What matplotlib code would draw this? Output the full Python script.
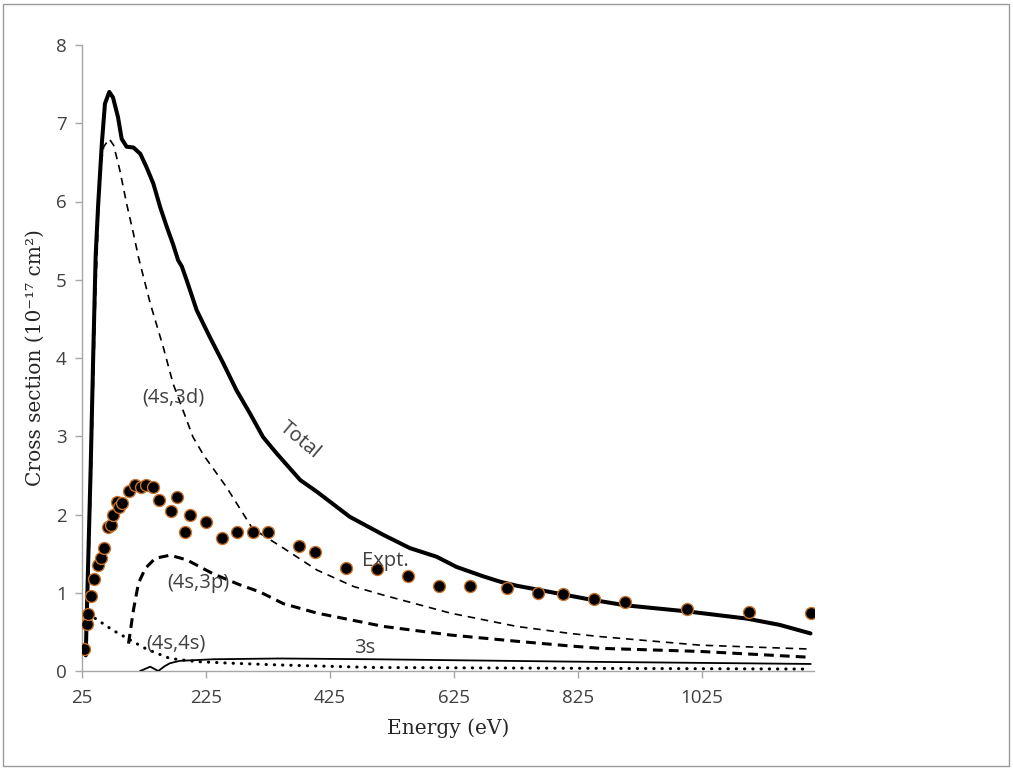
import matplotlib
matplotlib.use("Agg")
import matplotlib.pyplot as plt
from matplotlib.patches import Rectangle

# ---- data ----
total_E = [31, 35, 39, 43, 47, 51, 57, 62, 69, 75, 83, 89, 97, 108, 119, 129, 140, 151, 162,
           172, 180, 186, 194, 210, 231, 253, 274, 296, 317, 339, 377, 404, 457, 511, 554,
           597, 629, 672, 700, 726, 780, 840, 901, 1003, 1097, 1150, 1200]
total_y = [0.2, 1.4, 2.6, 4.0, 5.3, 5.95, 6.74, 7.25, 7.40, 7.33, 7.08, 6.80, 6.70, 6.69, 6.61,
           6.44, 6.23, 5.93, 5.67, 5.45, 5.25, 5.17, 4.99, 4.61, 4.27, 3.93, 3.59, 3.29, 2.99,
           2.78, 2.44, 2.29, 1.97, 1.74, 1.57, 1.46, 1.33, 1.21, 1.14, 1.09, 1.01, 0.92, 0.84,
           0.76, 0.67, 0.59, 0.48]

d3_E = [32, 40, 47, 54, 60, 69, 76, 86, 97, 108, 116, 135, 156, 172, 188, 204, 221, 258, 300,
        350, 404, 463, 511, 619, 726, 812, 860, 1022, 1200]
d3_y = [0.2, 2.5, 4.8, 6.40, 6.70, 6.80, 6.72, 6.40, 5.97, 5.59, 5.29, 4.70, 4.14, 3.67, 3.33,
        2.99, 2.76, 2.35, 1.82, 1.57, 1.29, 1.08, 0.97, 0.74, 0.57, 0.48, 0.44, 0.33, 0.28]

p3_E = [100, 108, 116, 127, 143, 167, 194, 237, 280, 312, 350, 404, 511, 619, 726, 812, 860,
        1022, 1200]
p3_y = [0.35, 0.78, 1.12, 1.31, 1.44, 1.48, 1.42, 1.24, 1.10, 1.01, 0.86, 0.74, 0.57, 0.46,
        0.38, 0.32, 0.29, 0.25, 0.175]

s4_E = [36, 43, 75, 102, 129, 167, 210, 264, 344, 495, 812, 1200]
s4_y = [0.74, 0.69, 0.52, 0.40, 0.28, 0.16, 0.12, 0.10, 0.077, 0.045, 0.035, 0.025]

s3_E = [119, 135, 148, 158, 167, 183, 237, 344, 495, 812, 1200]
s3_y = [0.0, 0.055, 0.0, 0.06, 0.10, 0.13, 0.15, 0.16, 0.15, 0.12, 0.09]

expt_E = [28, 33, 35, 40, 44, 50, 55, 60, 67, 71, 75, 81, 85, 89, 101, 110, 120, 129, 139,
          149, 168, 179, 191, 199, 225, 250, 275, 300, 325, 375, 400, 450, 500, 550, 600,
          650, 710, 760, 800, 850, 900, 1000, 1100, 1200]
expt_y = [0.28, 0.60, 0.73, 0.96, 1.18, 1.36, 1.45, 1.57, 1.84, 1.86, 1.99, 2.16, 2.10, 2.15,
          2.30, 2.38, 2.35, 2.38, 2.35, 2.18, 2.04, 2.23, 1.77, 1.99, 1.90, 1.70, 1.78, 1.77,
          1.78, 1.60, 1.52, 1.31, 1.30, 1.21, 1.08, 1.08, 1.06, 1.00, 0.98, 0.92, 0.885,
          0.79, 0.75, 0.735]

xticks = [25, 225, 425, 625, 825, 1025]
yticks = [0, 1, 2, 3, 4, 5, 6, 7, 8]

# ---- figure ----
W, H = 1013, 770
fig = plt.figure(figsize=(W / 100, H / 100), dpi=100)
ax = fig.add_axes([82 / W, 1 - 671 / H, (813.6 - 82) / W, (671 - 45) / H])

ax.plot(total_E, total_y, color="black", lw=2.9, solid_capstyle="round", solid_joinstyle="round", zorder=3)
ax.plot(d3_E, d3_y, color="black", lw=1.2, dashes=(4.5, 3.5), zorder=3)
ax.plot(p3_E, p3_y, color="black", lw=2.2, dashes=(3.2, 2.0), zorder=3)
ax.plot(s4_E, s4_y, color="black", lw=2.2, dashes=(0.1, 2.6), dash_capstyle="round", zorder=3)
ax.plot(s3_E, s3_y, color="black", lw=1.3, zorder=3)
ax.plot(expt_E, expt_y, linestyle="none", marker="o", markersize=8.6,
        markerfacecolor="black", markeredgecolor="#c8722a", markeredgewidth=1.0, zorder=4)

ax.set_xlim(25, 1205)
ax.set_ylim(0, 8)
ax.set_xticks(xticks)
ax.set_yticks(yticks)

for s in ["top", "right"]:
    ax.spines[s].set_visible(False)
for s in ["left", "bottom"]:
    ax.spines[s].set_color("#a6a6a6")
    ax.spines[s].set_linewidth(1.0)
ax.tick_params(axis="both", direction="out", length=5, width=1, color="#a6a6a6",
               labelcolor="#404040", labelsize=13.5)
for lab in ax.get_xticklabels() + ax.get_yticklabels():
    lab.set_fontfamily("Open Sans")
ax.tick_params(axis="x", pad=8)
ax.tick_params(axis="y", pad=6)

ax.set_xlabel("Energy (eV)", family="DejaVu Serif", fontsize=14.5, color="#262626", labelpad=8)
ax.set_ylabel("Cross section (10\u207b\u00b9\u2077 cm\u00b2)", family="DejaVu Serif",
              fontsize=14.5, color="#262626", labelpad=8)

txt = dict(family="Open Sans", fontsize=14.5, color="#404040", ha="center", va="center", zorder=5)
ax.text(172, 3.50, "(4s,3d)", **txt)
ax.text(377, 2.95, "Total", rotation=-40, **txt)
ax.text(514, 1.40, "Expt.", **txt)
ax.text(213, 1.12, "(4s,3p)", **txt)
ax.text(176, 0.35, "(4s,4s)", **txt)
ax.text(481, 0.29, "3s", **txt)

fig.patches.append(Rectangle((3 / W, 4 / H), (W - 7) / W, (H - 8) / H, transform=fig.transFigure,
                             fill=False, edgecolor="#9a9a9a", lw=1.0))

fig.savefig("out.png", dpi=100)
